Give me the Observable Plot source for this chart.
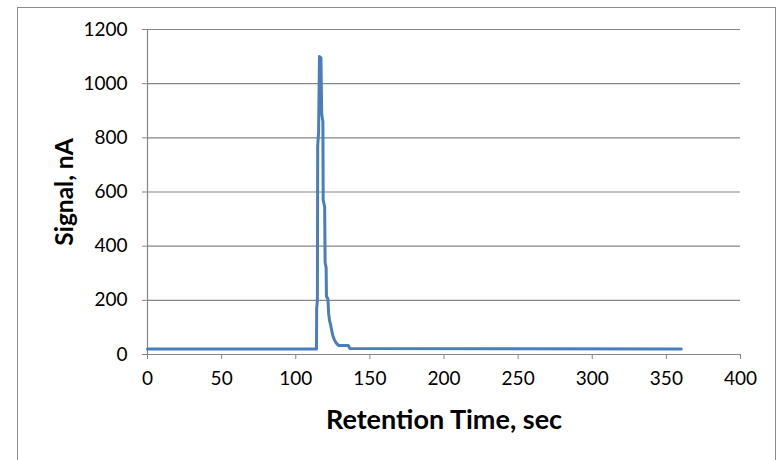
<!DOCTYPE html>
<html><head><meta charset="utf-8">
<script src="https://cdn.jsdelivr.net/npm/d3@7"></script>
<script src="https://cdn.jsdelivr.net/npm/@observablehq/plot@0.6"></script>
<style>
html,body{margin:0;padding:0;background:#fff;}
#wrap{position:relative;width:783px;height:460px;overflow:hidden;}
#border{position:absolute;left:17px;top:7px;width:759px;height:470px;border:1.5px solid #8c8c8c;box-sizing:border-box;}
#chart{position:absolute;left:0;top:0;}
</style></head>
<body><div id="wrap"><div id="border"></div><div id="chart"></div></div>
<script>
const times = [0, 113.9, 114.0, 114.1, 114.6, 114.8, 115.4, 116.0, 117.0, 117.5, 118.0, 118.3, 118.5, 119.5, 119.8, 120.5, 120.7, 121.7, 122.2, 122.8, 123.5, 124.2, 125.0, 126.0, 127.0, 128.0, 129.0, 135.5, 136.5, 360];
const signal = [20, 20, 20, 170, 200, 770, 820, 1100, 1095, 890, 870, 860, 570, 545, 340, 320, 215, 205, 150, 125, 110, 90, 70, 55, 45, 38, 33, 33, 22, 20];
const yTicks = [0, 200, 400, 600, 800, 1000, 1200];
const xTicks = [0, 50, 100, 150, 200, 250, 300, 350, 400];
const xTitle = "Retention Time, sec";
const yTitle = "Signal, nA";

const data = times.map((t, i) => ({t, v: signal[i]}));
const font = "Lato, 'Open Sans', sans-serif";

const chart = Plot.plot({
  width: 783, height: 460,
  marginLeft: 147, marginRight: 43, marginTop: 29, marginBottom: 106,
  style: {fontFamily: font, fontSize: "19px", color: "#000", background: "transparent"},
  x: {domain: [0, 400]},
  y: {domain: [0, 1200]},
  marks: [
    Plot.ruleY(yTicks, {stroke: "#868686", strokeWidth: 1.2}),
    Plot.ruleX([0], {stroke: "#868686", strokeWidth: 1.2}),
    Plot.axisY({ticks: yTicks, tickSize: 5, tickPadding: 15, stroke: "#868686", label: null, tickFormat: d => String(d), fontSize: 19}),
    Plot.axisX({ticks: xTicks, tickSize: 5, tickPadding: 12, stroke: "#868686", label: null, tickFormat: d => String(d), fontSize: 19}),
    Plot.line(data, {x: "t", y: "v", stroke: "#4a7ebb", strokeWidth: 3, strokeLinejoin: "round"}),
    Plot.text([xTitle], {frameAnchor: "bottom", lineAnchor: "middle", dy: 66, fontSize: 27, fontWeight: "bold", fill: "#000"}),
    Plot.text([yTitle], {frameAnchor: "left", textAnchor: "middle", lineAnchor: "middle", dx: -82, rotate: -90, fontSize: 24.5, fontWeight: "bold", fill: "#000"})
  ]
});
document.getElementById("chart").appendChild(chart);
</script></body></html>
